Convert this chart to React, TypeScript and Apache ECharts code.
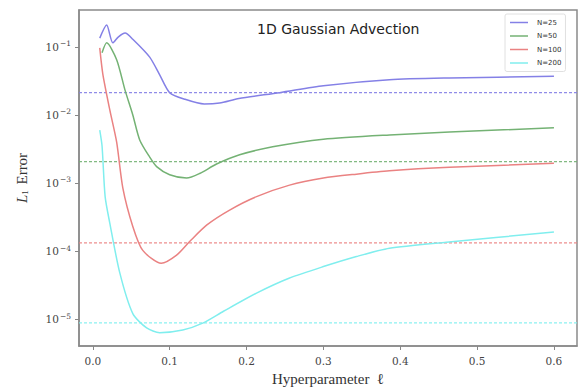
import React, { useEffect, useRef } from "react";
import * as echarts from "echarts";

const labels = ["N=25", "N=50", "N=100", "N=200"];
const colors = ["#8480e6", "#74b274", "#ea8282", "#80eeee"];

const x25 = [0.009, 0.018, 0.026, 0.033, 0.042, 0.052, 0.074, 0.087, 0.10, 0.12, 0.145, 0.165, 0.19, 0.243, 0.30, 0.386, 0.464, 0.60];
const y25 = [0.135, 0.21, 0.115, 0.14, 0.16, 0.13, 0.071, 0.039, 0.0213, 0.017, 0.0145, 0.015, 0.0175, 0.0213, 0.027, 0.033, 0.035, 0.037];

const x50 = [0.012, 0.018, 0.031, 0.042, 0.052, 0.061, 0.074, 0.083, 0.10, 0.122, 0.139, 0.161, 0.191, 0.234, 0.30, 0.386, 0.464, 0.60];
const y50 = [0.082, 0.115, 0.065, 0.023, 0.01, 0.0043, 0.0024, 0.00174, 0.00132, 0.00118, 0.00138, 0.0019, 0.0026, 0.0034, 0.0044, 0.0051, 0.0056, 0.0065];

const x100 = [0.009, 0.013, 0.022, 0.031, 0.039, 0.052, 0.065, 0.089, 0.109, 0.126, 0.148, 0.178, 0.213, 0.256, 0.30, 0.343, 0.386, 0.464, 0.60];
const y100 = [0.097, 0.04, 0.012, 0.004, 8.5e-4, 2.3e-4, 1.02e-4, 6.6e-5, 8.7e-5, 1.38e-4, 2.4e-4, 4.0e-4, 6.3e-4, 9.3e-4, 0.00118, 0.00135, 0.00151, 0.0017, 0.00195];

const x200 = [0.009, 0.012, 0.016, 0.022, 0.035, 0.052, 0.070, 0.087, 0.117, 0.143, 0.170, 0.213, 0.256, 0.30, 0.343, 0.386, 0.46, 0.60];
const y200 = [0.006, 0.0035, 6.3e-4, 2.6e-4, 4.8e-5, 1.2e-5, 7.4e-6, 6.3e-6, 6.9e-6, 8.7e-6, 1.3e-5, 2.4e-5, 4.0e-5, 5.9e-5, 8.3e-5, 1.1e-4, 1.35e-4, 1.9e-4];

const levels = [0.0213, 0.00206, 1.32e-4, 8.8e-6];

const X_MIN = -0.018;
const X_MAX = 0.63;

const xs = [x25, x50, x100, x200];
const ys = [y25, y50, y100, y200];

export default function App() {
  const ref = useRef<HTMLDivElement>(null);
  useEffect(() => {
    document.body.style.margin = "0";
    const chart = echarts.init(ref.current!, null, { renderer: "svg" });
    const curves = labels.map((name, i) => ({
      name,
      type: "line",
      data: xs[i].map((x, j) => [x, ys[i][j]]),
      showSymbol: false,
      smooth: 0.25,
      z: 3,
      lineStyle: { color: colors[i], width: 1.5 },
      itemStyle: { color: colors[i] },
    }));
    const refs = labels.map((name, i) => ({
      name: name + " ref",
      type: "line",
      data: [[X_MIN, levels[i]], [X_MAX, levels[i]]],
      showSymbol: false,
      silent: true,
      z: 2,
      lineStyle: { color: colors[i], type: [3, 2], width: 1.2, opacity: 0.9 },
      itemStyle: { color: colors[i] },
    }));
    chart.setOption({
      animation: false,
      backgroundColor: "#ffffff",
      title: {
        text: "1D Gaussian Advection",
        left: 252,
        top: 17,
        textStyle: { fontFamily: "DejaVu Sans", fontSize: 14, fontWeight: "normal", color: "#222" },
      },
      legend: {
        orient: "vertical",
        left: 505,
        top: 14,
        icon: "rect",
        itemWidth: 18,
        itemHeight: 1.5,
        itemGap: 6.5,
        padding: [5, 4, 5, 5],
        backgroundColor: "#fff",
        borderColor: "#e0e0e0",
        borderWidth: 1,
        borderRadius: 2,
        textStyle: { fontFamily: "DejaVu Sans", fontSize: 7, color: "#333", padding: [0, 0, 0, 4] },
        data: labels,
      },
      grid: {
        left: 79,
        right: 5,
        top: 10,
        bottom: 46,
        show: true,
        borderColor: "#8a8a8a",
        borderWidth: 1.5,
        backgroundColor: "#fff",
      },
      xAxis: {
        type: "value",
        min: X_MIN,
        max: X_MAX,
        name: "Hyperparameter  ℓ",
        nameLocation: "middle",
        nameGap: 25,
        nameTextStyle: { fontFamily: "Liberation Serif", fontSize: 15, color: "#333" },
        axisLine: { show: true, onZero: false, lineStyle: { color: "#8a8a8a", width: 1.5 } },
        axisTick: { show: true, inside: false, length: 4, lineStyle: { color: "#888" } },
        axisLabel: {
          showMinLabel: false,
          showMaxLabel: false,
          margin: 9,
          fontFamily: "DejaVu Serif",
          fontSize: 10.5,
          color: "#444",
          formatter: (v: number) => v.toFixed(1),
        },
        splitLine: { show: false },
      },
      yAxis: {
        type: "log",
        logBase: 10,
        min: Math.pow(10, -5.397),
        max: Math.pow(10, -0.456),
        name: "{i|L}{s|1} Error",
        nameLocation: "middle",
        nameGap: 50,
        nameTextStyle: {
          fontFamily: "Liberation Serif",
          fontSize: 15,
          color: "#333",
          rich: {
            i: { fontFamily: "Liberation Serif", fontStyle: "italic", fontSize: 15, color: "#333" },
            s: { fontFamily: "Liberation Serif", fontSize: 9, color: "#333", padding: [6, 2, 0, 0] },
          },
        },
        axisLine: { show: true, onZero: false, lineStyle: { color: "#8a8a8a", width: 1.5 } },
        axisTick: { show: true, inside: false, length: 4, lineStyle: { color: "#888" } },
        axisLabel: {
          showMinLabel: false,
          showMaxLabel: false,
          margin: 8,
          color: "#444",
          formatter: (v: number) => "{b|10}{s|−" + Math.round(-Math.log10(v)) + "}",
          rich: {
            b: { fontFamily: "DejaVu Serif", fontSize: 10.5, color: "#444" },
            s: { fontFamily: "DejaVu Serif", fontSize: 7.5, color: "#444", padding: [0, 0, 6, 1] },
          },
        },
        splitLine: { show: false },
      },
      series: [...refs, ...curves],
    });
    return () => chart.dispose();
  }, []);
  return <div ref={ref} style={{ width: 582, height: 392 }} />;
}
